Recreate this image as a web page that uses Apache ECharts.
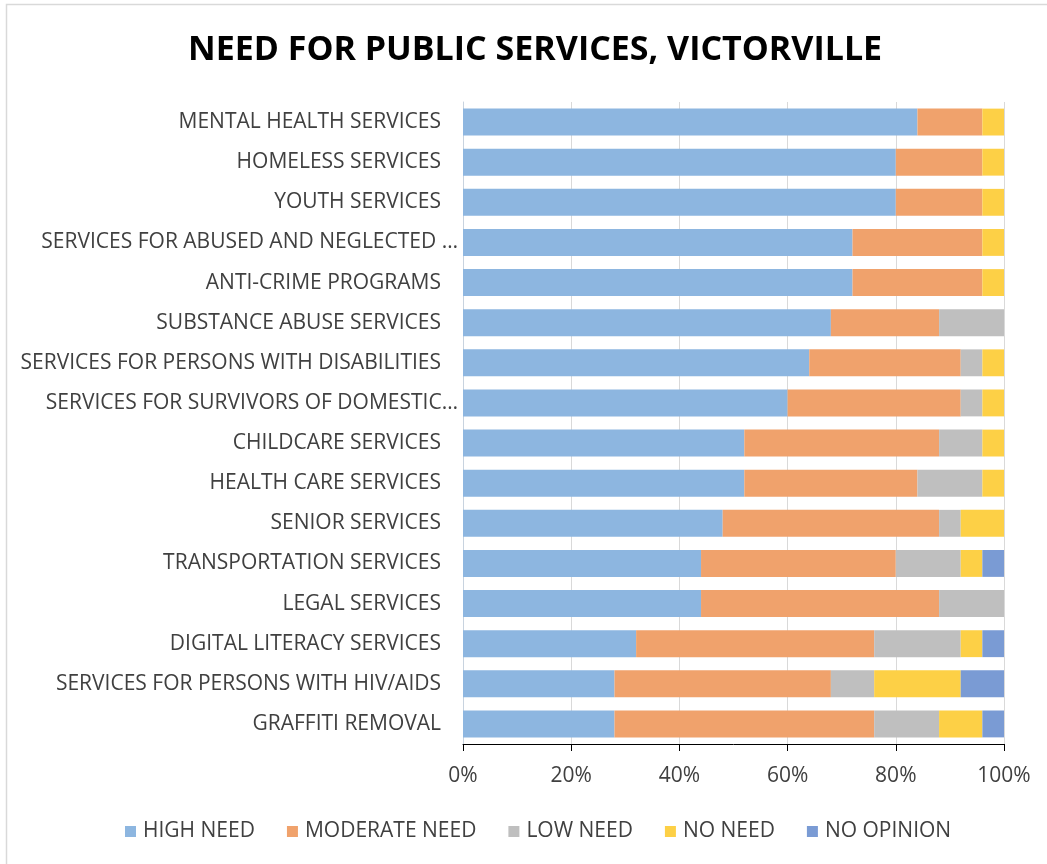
<!DOCTYPE html>
<html>
<head>
<meta charset="utf-8">
<title>Need for Public Services, Victorville</title>
<script src="https://cdn.jsdelivr.net/npm/echarts@6/dist/echarts.min.js"></script>
<style>
  html, body { margin: 0; padding: 0; background: #ffffff; }
  #chart { width: 1047px; height: 864px; }
</style>
</head>
<body>
<div id="chart"></div>
<script>
// Services surveyed, top to bottom
const categories = [
  'MENTAL HEALTH SERVICES',
  'HOMELESS SERVICES',
  'YOUTH SERVICES',
  'SERVICES FOR ABUSED AND NEGLECTED …',
  'ANTI-CRIME PROGRAMS',
  'SUBSTANCE ABUSE SERVICES',
  'SERVICES FOR PERSONS WITH DISABILITIES',
  'SERVICES FOR SURVIVORS OF DOMESTIC…',
  'CHILDCARE SERVICES',
  'HEALTH CARE SERVICES',
  'SENIOR SERVICES',
  'TRANSPORTATION SERVICES',
  'LEGAL SERVICES',
  'DIGITAL LITERACY SERVICES',
  'SERVICES FOR PERSONS WITH HIV/AIDS',
  'GRAFFITI REMOVAL'
];

// Share of respondents (%) per response level
const highNeed     = [84, 80, 80, 72, 72, 68, 64, 60, 52, 52, 48, 44, 44, 32, 28, 28];
const moderateNeed = [12, 16, 16, 24, 24, 20, 28, 32, 36, 32, 40, 36, 44, 44, 40, 48];
const lowNeed      = [ 0,  0,  0,  0,  0, 12,  4,  4,  8, 12,  4, 12, 12, 16,  8, 12];
const noNeed       = [ 4,  4,  4,  4,  4,  0,  4,  4,  4,  4,  8,  4,  0,  4, 16,  8];
const noOpinion    = [ 0,  0,  0,  0,  0,  0,  0,  0,  0,  0,  0,  4,  0,  4,  8,  4];

const seriesNames = ['HIGH NEED', 'MODERATE NEED', 'LOW NEED', 'NO NEED', 'NO OPINION'];
const seriesData = [highNeed, moderateNeed, lowNeed, noNeed, noOpinion];
const colors = ['#8db6e0', '#f0a26c', '#bfbfbf', '#fdd046', '#7a9bd4'];

const font = '"Open Sans", "Liberation Sans", sans-serif';
const textColor = '#404040';
const labelStyle = { fontFamily: font, fontSize: 21, color: textColor };

const chart = echarts.init(document.getElementById('chart'), null, { renderer: 'canvas' });

chart.setOption({
  backgroundColor: '#ffffff',
  animation: false,
  color: colors,
  title: {
    text: 'NEED FOR PUBLIC SERVICES, VICTORVILLE',
    left: 183,
    top: 28,
    textStyle: {
      fontFamily: font,
      fontWeight: 'bold',
      fontSize: 34,
      color: '#000000'
    }
  },
  graphic: [
    {
      type: 'polyline',
      shape: { points: [[6.5, 864], [6.5, 4.5], [1047, 4.5]] },
      style: { stroke: '#d9d9d9', lineWidth: 1.5, fill: null },
      silent: true
    }
  ],
  legend: {
    data: seriesNames,
    top: 816,
    left: 120,
    icon: 'rect',
    itemWidth: 11,
    itemHeight: 11,
    itemGap: 32,
    textStyle: { fontFamily: font, fontSize: 21, color: textColor, padding: [0, 0, 0, 2] }
  },
  grid: {
    left: 463,
    right: 43,
    top: 102,
    bottom: 120,
    containLabel: false
  },
  xAxis: {
    type: 'value',
    min: 0,
    max: 100,
    interval: 20,
    axisLine: { show: true, lineStyle: { color: '#000000', width: 1 } },
    axisTick: { show: true, length: 7, lineStyle: { color: '#000000' } },
    splitLine: { show: true, lineStyle: { color: '#d9d9d9', width: 1 } },
    axisLabel: {
      formatter: '{value}%',
      fontFamily: font,
      fontSize: 21,
      color: textColor,
      margin: 22
    }
  },
  yAxis: {
    type: 'category',
    data: categories,
    inverse: true,
    axisLine: { show: true, lineStyle: { color: '#c8d3df', width: 1 } },
    axisTick: { show: false },
    axisLabel: {
      fontFamily: font,
      fontSize: 21,
      color: textColor,
      margin: 5,
      // shortened names run a little past the others, toward the axis
      formatter: (value) => value.endsWith('…') ? '{cut|' + value + '}' : '{full|' + value + '}',
      rich: {
        full: Object.assign({ padding: [0, 17, 0, 0] }, labelStyle),
        cut: Object.assign({}, labelStyle)
      }
    }
  },
  series: seriesNames.map((name, i) => ({
    name: name,
    type: 'bar',
    stack: 'total',
    barCategoryGap: '33%',
    data: seriesData[i],
    itemStyle: { color: colors[i] },
    emphasis: { disabled: true }
  }))
});
</script>
</body>
</html>
